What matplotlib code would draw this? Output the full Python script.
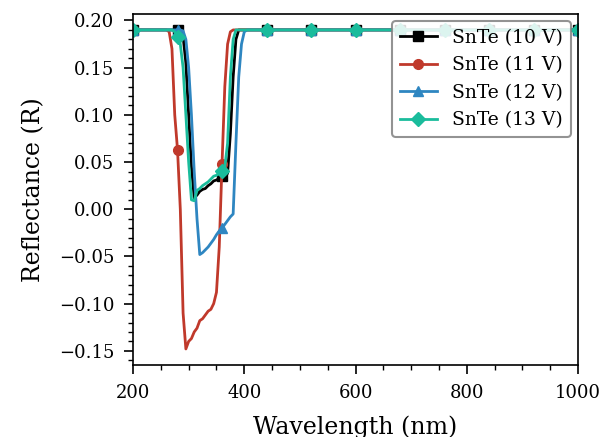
import matplotlib
matplotlib.use("Agg")
import matplotlib.pyplot as plt
from matplotlib.ticker import MultipleLocator

# -----------------------------
# Data
# -----------------------------
wavelength = [200, 240, 260, 265, 270, 275, 280, 285, 290, 295, 300, 305, 310,
              315, 320, 325, 330, 335, 340, 345, 350, 355, 360, 365, 370, 375,
              380, 385, 390, 395, 400, 405, 410, 440, 520, 600, 680, 760, 840,
              920, 1000]

r_10v = [0.19, 0.19, 0.19, 0.19, 0.19, 0.19, 0.19, 0.19, 0.183, 0.155, 0.10,
         0.045, 0.012, 0.015, 0.019, 0.021, 0.022, 0.025, 0.027, 0.030, 0.031,
         0.033, 0.035, 0.036, 0.038, 0.08, 0.14, 0.18, 0.19, 0.19, 0.19, 0.19,
         0.19, 0.19, 0.19, 0.19, 0.19, 0.19, 0.19, 0.19, 0.19]

r_11v = [0.19, 0.19, 0.19, 0.188, 0.17, 0.10, 0.063, 0.0, -0.11, -0.148,
         -0.14, -0.137, -0.13, -0.126, -0.118, -0.116, -0.112, -0.108, -0.106,
         -0.10, -0.088, -0.04, 0.048, 0.13, 0.175, 0.188, 0.19, 0.19, 0.19,
         0.19, 0.19, 0.19, 0.19, 0.19, 0.19, 0.19, 0.19, 0.19, 0.19, 0.19, 0.19]

r_12v = [0.19, 0.19, 0.19, 0.19, 0.19, 0.19, 0.19, 0.19, 0.189, 0.18, 0.15,
         0.10, 0.04, -0.01, -0.048, -0.046, -0.043, -0.040, -0.036, -0.032,
         -0.027, -0.023, -0.020, -0.016, -0.012, -0.008, -0.005, 0.07, 0.14,
         0.175, 0.188, 0.19, 0.19, 0.19, 0.19, 0.19, 0.19, 0.19, 0.19, 0.19,
         0.19]

r_13v = [0.19, 0.19, 0.19, 0.19, 0.19, 0.188, 0.183, 0.175, 0.15, 0.10, 0.05,
         0.01, 0.009, 0.02, 0.022, 0.025, 0.027, 0.029, 0.032, 0.035, 0.036,
         0.038, 0.041, 0.045, 0.07, 0.14, 0.18, 0.19, 0.19, 0.19, 0.19, 0.19,
         0.19, 0.19, 0.19, 0.19, 0.19, 0.19, 0.19, 0.19, 0.19]

labels = ["SnTe (10 V)", "SnTe (11 V)", "SnTe (12 V)", "SnTe (13 V)"]
marker_wl = [200, 280, 360, 440, 520, 600, 680, 760, 840, 920, 1000]

# -----------------------------
# Plot
# -----------------------------
plt.rcParams["font.family"] = "DejaVu Serif"

fig, ax = plt.subplots(figsize=(6.13, 4.37), dpi=100)
fig.subplots_adjust(left=0.217, right=0.943, top=0.968, bottom=0.165)

mark_idx = [i for i, w in enumerate(wavelength) if w in marker_wl]
series = [r_10v, r_11v, r_12v, r_13v]
colors = ["#000000", "#c0392b", "#2e86c1", "#1abc9c"]
markers = ["s", "o", "^", "D"]

for vals, lab, c, m in zip(series, labels, colors, markers):
    ax.plot(wavelength, vals, color=c, marker=m, markersize=7, lw=2,
            markevery=mark_idx, label=lab)

ax.set_xlim(200, 1000)
ax.xaxis.set_major_locator(MultipleLocator(200))
ax.xaxis.set_minor_locator(MultipleLocator(50))
ax.yaxis.set_major_locator(MultipleLocator(0.05))
ax.yaxis.set_minor_locator(MultipleLocator(0.01))
ax.tick_params(which="major", length=6.5, width=1.2, labelsize=13, pad=7)
ax.tick_params(which="minor", length=3.5, width=1)
for sp in ax.spines.values():
    sp.set_linewidth(1.2)

ax.set_xlabel("Wavelength (nm)", fontsize=17, labelpad=10)
ax.set_ylabel("Reflectance (R)", fontsize=17, labelpad=10)

leg = ax.legend(loc="upper right", fontsize=13.5, framealpha=0.85,
                edgecolor="gray", borderaxespad=0.4)
leg.get_frame().set_linewidth(1.5)

fig.savefig("out.png", dpi=100)
